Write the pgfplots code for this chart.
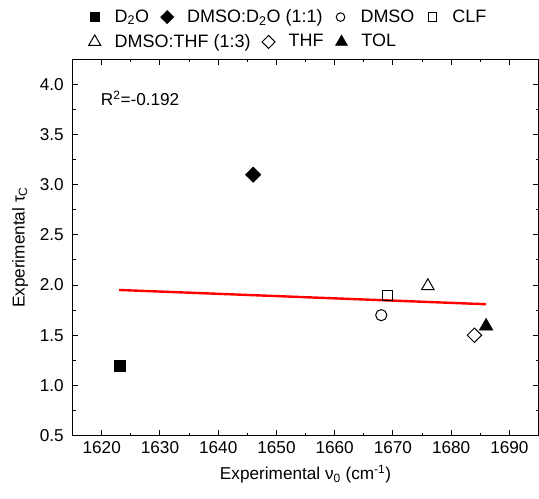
\documentclass[border=0pt]{standalone}
\usepackage{fontspec}
\setmainfont{Liberation Sans}
\usepackage{pgfplots}
\pgfplotsset{compat=1.18}
\pgfplotsset{
  legrow/.style={scale only axis, width=466.3bp, height=376.7bp, hide axis,
    xmin=0, xmax=1, ymin=0, ymax=1, legend columns=-1,
    legend image code/.code={\path[draw=none,fill=none] (-7bp,-1bp) rectangle (19bp,1bp);\draw[##1] plot coordinates {(0bp,0bp)};},
    legend style={draw=none, fill=none, inner sep=0pt, anchor=west,
      font=\fontsize{18bp}{21bp}\selectfont,
      nodes={inner sep=1bp},
      /tikz/every odd column/.append style={column sep=0bp},
      /tikz/every even column/.append style={column sep=10bp}}},
}
\begin{document}
\fontsize{17.2bp}{20bp}\selectfont
\begin{tikzpicture}
\begin{axis}[name=main, scale only axis, width=466.3bp, height=376.7bp,
  xmin=1615, xmax=1695, ymin=0.5, ymax=4.25,
  xtick={1620,1630,...,1690}, ytick={0.5,1.0,...,4.0},
  minor x tick num=1, minor y tick num=1,
  tick align=inside, major tick length=5.7bp, minor tick length=3bp,
  axis line style={line width=1bp}, every tick/.style={black, line width=1bp},
  /pgf/number format/assume math mode=true,
  x tick label style={/pgf/number format/1000 sep={}},
  y tick label style={/pgf/number format/fixed, /pgf/number format/fixed zerofill, /pgf/number format/precision=1, xshift=-3bp},
  xlabel={Experimental ν\textsubscript{0} (cm\textsuperscript{-1})},
  ylabel={Experimental τ\textsubscript{C}},
]
\addplot[only marks, mark=square*, mark size=5.5bp, black] coordinates {(1623,1.2)};
\addplot[only marks, mark=square*, mark size=5.5bp, mark options={rotate=45}, black] coordinates {(1646,3.1)};
\addplot[only marks, mark=o, mark size=5.6bp, black, line width=1bp] coordinates {(1668,1.7)};
\addplot[only marks, mark=square, mark size=5bp, black, line width=1bp] coordinates {(1669,1.9)};
\addplot[only marks, mark=triangle, mark size=7.3bp, black, line width=1bp] coordinates {(1676,1.99)};
\addplot[only marks, mark=square, mark size=5.1bp, mark options={rotate=45}, black, line width=1bp] coordinates {(1684,1.5)};
\addplot[only marks, mark=triangle*, mark size=8bp, black] coordinates {(1686,1.59)};
\addplot[red, line width=2.4bp, no marks] coordinates {(1623,1.951) (1686,1.809)};
\node[anchor=west] at (rel axis cs:0.048,0.897) {R\textsuperscript{2}=-0.192};
\end{axis}
\begin{axis}[legrow, legend style={at={(0.032,1.112)}}]
\addlegendimage{only marks, mark=square*, mark size=4.6bp, black}
\addlegendentry{D\textsubscript{2}O}
\addlegendimage{only marks, mark=square*, mark size=4.7bp, mark options={rotate=45}, black}
\addlegendentry{DMSO:D\textsubscript{2}O (1:1)}
\addlegendimage{only marks, mark=o, mark size=4.3bp, black, line width=1bp}
\addlegendentry{DMSO}
\addlegendimage{only marks, mark=square, mark size=4.2bp, black, line width=1bp}
\addlegendentry{CLF}
\end{axis}
\begin{axis}[legrow, legend style={at={(0.032,1.046)}}]
\addlegendimage{only marks, mark=triangle, mark size=7bp, black, line width=1bp}
\addlegendentry{DMSO:THF (1:3)}
\addlegendimage{only marks, mark=square, mark size=4.6bp, mark options={rotate=45}, black, line width=1bp}
\addlegendentry{THF}
\addlegendimage{only marks, mark=triangle*, mark size=7bp, black}
\addlegendentry{TOL}
\end{axis}
\pgfresetboundingbox
\path ([xshift=-72.7bp,yshift=-63bp]main.south west) rectangle ([xshift=0.5bp,yshift=59.3bp]main.north east);
\end{tikzpicture}
\end{document}
